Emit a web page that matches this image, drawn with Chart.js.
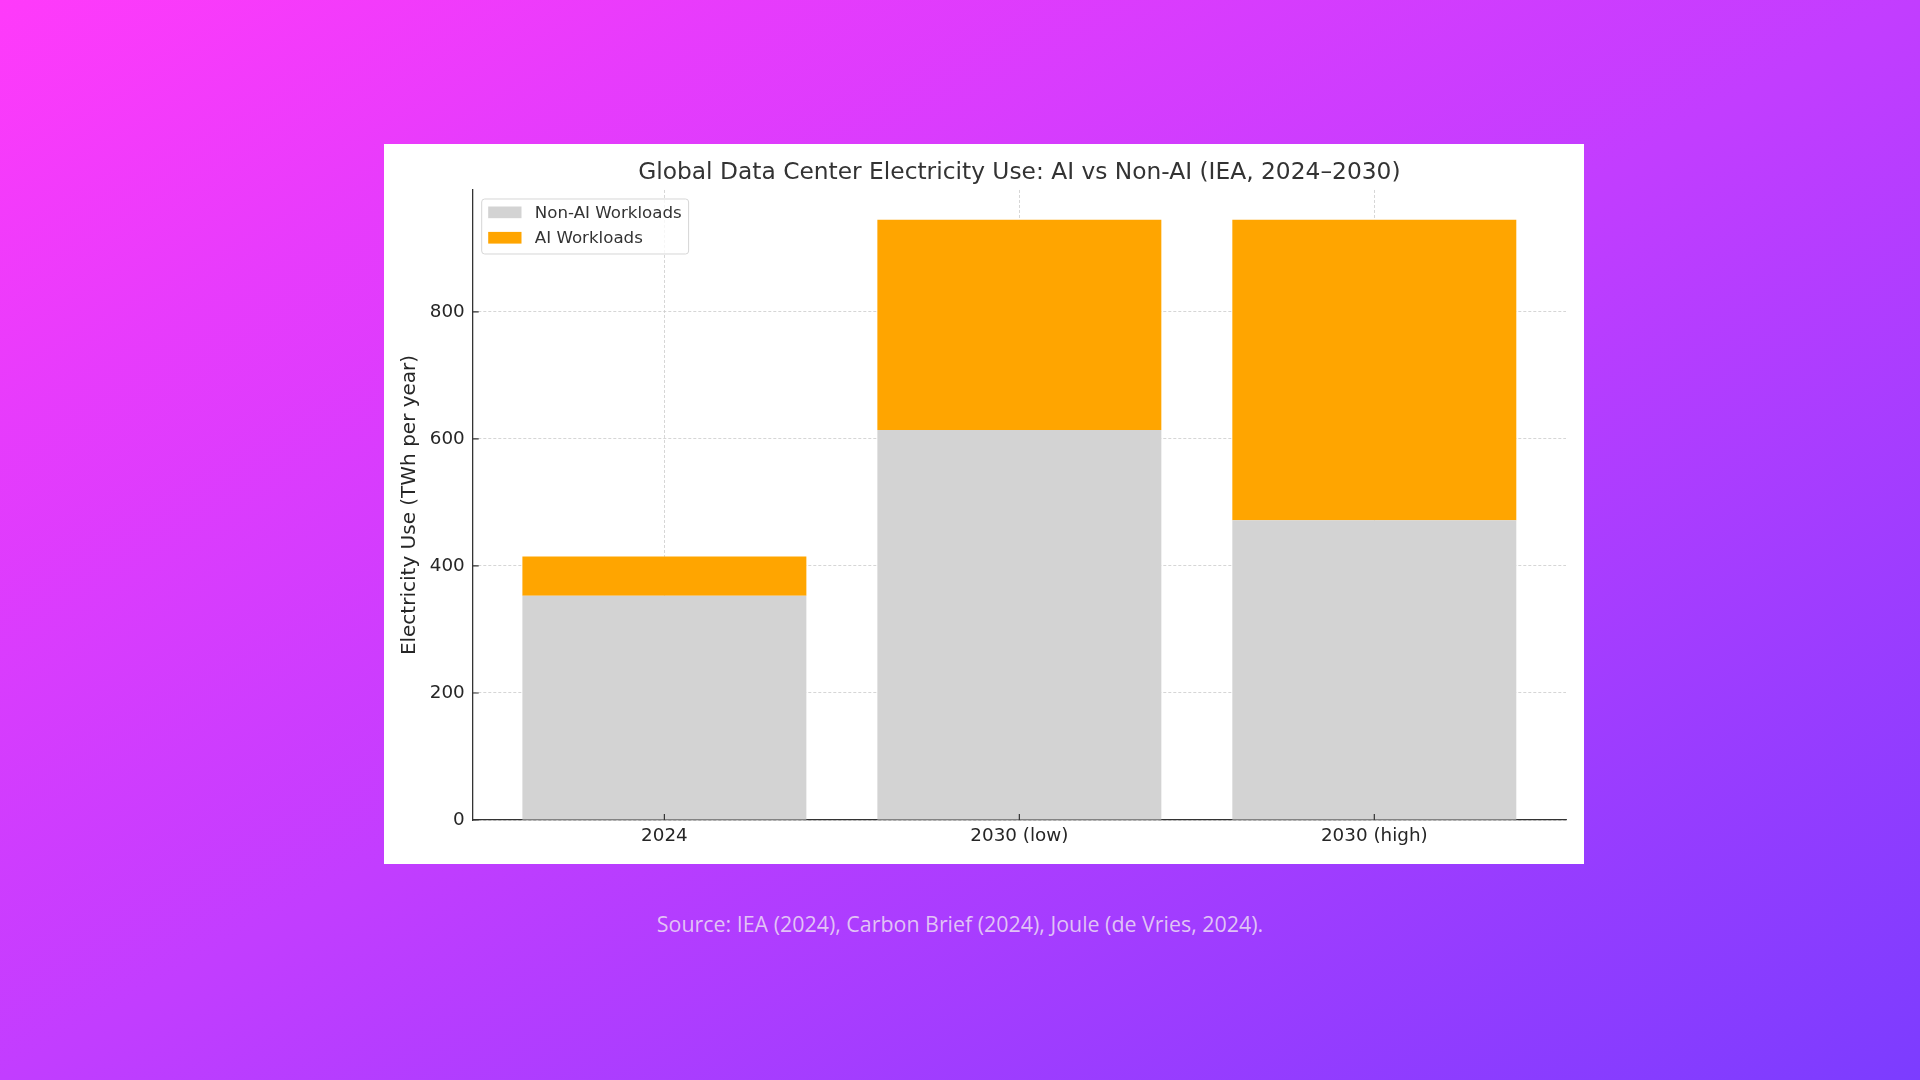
<!DOCTYPE html>
<html lang="en">
<head>
    <meta charset="UTF-8">
    <title>Global Data Center Electricity Use: AI vs Non-AI</title>
    <script src="https://cdn.jsdelivr.net/npm/chart.js"></script>
    <style>
        html, body { margin: 0; padding: 0; }
        body {
            width: 1920px; height: 1080px; position: relative; overflow: hidden;
            background: linear-gradient(to bottom right, #ff3afa 0%, #c23dff 50%, #7c3cff 100%);
        }
        #panel { position: absolute; left: 384px; top: 144px; width: 1200px; height: 720px; background: #fff; }
        #source {
            position: absolute; left: 0; width: 1920px; top: 909px; text-align: center;
            font: 21.4px "Open Sans", sans-serif; color: rgba(236, 220, 244, 0.85);
        }
    </style>
</head>
<body>
    <div id="panel"><canvas id="myChart" width="1200" height="720"></canvas></div>
    <div id="source">Source: IEA (2024), Carbon Brief (2024), Joule (de Vries, 2024).</div>
    <script>
        const categories = ['2024', '2030 (low)', '2030 (high)'];
        const nonAiValues = [353, 614, 472];
        const aiValues = [62, 331, 473];
        const yTickValues = [0, 200, 400, 600, 800];
        const seriesNames = ['Non-AI Workloads', 'AI Workloads'];
        const seriesColors = ['#d3d3d3', '#ffa500'];

        const FONT = '"DejaVu Sans", sans-serif';

        // matplotlib style inward tick marks
        const inwardTicks = {
            id: 'inwardTicks',
            afterDraw(chart) {
                const ctx = chart.ctx;
                const xs = chart.scales.x, ys = chart.scales.y;
                ctx.save();
                ctx.strokeStyle = '#333';
                ctx.lineWidth = 1.2;
                ctx.beginPath();
                xs.ticks.forEach(t => {
                    const px = xs.getPixelForValue(t.value);
                    ctx.moveTo(px, ys.bottom);
                    ctx.lineTo(px, ys.bottom - 6);
                });
                ys.ticks.forEach(t => {
                    const py = ys.getPixelForValue(t.value);
                    ctx.moveTo(xs.left, py);
                    ctx.lineTo(xs.left + 6, py);
                });
                ctx.stroke();
                ctx.restore();
            }
        };

        // legend box drawn inside the plot, upper left
        const boxLegend = {
            id: 'boxLegend',
            afterDraw(chart) {
                const ctx = chart.ctx;
                const area = chart.chartArea;
                const fs = 16.67;
                ctx.save();
                ctx.font = fs + 'px ' + FONT;
                const textW = Math.max(...seriesNames.map(n => ctx.measureText(n).width));
                const bx = area.left + 9, by = area.top + 9;
                const bw = 6.7 + 33.3 + 13.3 + textW + 6.7, bh = 55;
                ctx.beginPath();
                ctx.roundRect(bx, by, bw, bh, 3);
                ctx.fillStyle = 'rgba(255,255,255,0.8)';
                ctx.fill();
                ctx.strokeStyle = '#d6d6d6';
                ctx.lineWidth = 1;
                ctx.stroke();
                ctx.textBaseline = 'middle';
                seriesNames.forEach((name, i) => {
                    const cy = area.top + 22.3 + i * 25.4;
                    ctx.fillStyle = seriesColors[i];
                    ctx.fillRect(bx + 6.5, cy - 5.8, 33.3, 11.7);
                    ctx.fillStyle = '#333';
                    ctx.fillText(name, bx + 6.5 + 33.3 + 13.3, cy + 1);
                });
                ctx.restore();
            }
        };

        const ctx = document.getElementById('myChart').getContext('2d');
        const myChart = new Chart(ctx, {
            type: 'bar',
            data: {
                datasets: [{
                    label: seriesNames[0],
                    data: nonAiValues.map((v, i) => ({ x: i, y: v })),
                    backgroundColor: seriesColors[0]
                }, {
                    label: seriesNames[1],
                    data: aiValues.map((v, i) => ({ x: i, y: v })),
                    backgroundColor: seriesColors[1]
                }]
            },
            options: {
                responsive: false,
                animation: false,
                devicePixelRatio: 1,
                categoryPercentage: 1,
                barPercentage: 0.8,
                layout: { padding: { left: 0, right: 18, top: 0, bottom: 0 } },
                scales: {
                    x: {
                        type: 'linear',
                        stacked: true,
                        offset: false,
                        min: -0.54,
                        max: 2.54,
                        z: 1,
                        afterBuildTicks: s => { s.ticks = categories.map((c, i) => ({ value: i })); },
                        afterFit: s => { s.height = 44; },
                        grid: { offset: false, color: '#cccccc', lineWidth: 0.8, drawTicks: false },
                        border: { display: true, color: '#333', width: 1.3, dash: [3, 2] },
                        ticks: {
                            padding: 5,
                            color: '#262626',
                            font: { family: FONT, size: 18.33 },
                            callback: v => categories[v]
                        }
                    },
                    y: {
                        stacked: true,
                        min: 0,
                        max: 992,
                        z: 1,
                        afterBuildTicks: s => { s.ticks = yTickValues.map(v => ({ value: v })); },
                        afterFit: s => { s.width = 88.7; },
                        grid: { color: '#cccccc', lineWidth: 0.8, drawTicks: false },
                        border: { display: true, color: '#333', width: 1.3, dash: [3, 2] },
                        ticks: {
                            padding: 8,
                            color: '#262626',
                            font: { family: FONT, size: 18.33 }
                        },
                        title: {
                            display: true,
                            text: 'Electricity Use (TWh per year)',
                            color: '#262626',
                            font: { family: FONT, size: 20 },
                            padding: { top: 14, bottom: 0 }
                        }
                    }
                },
                plugins: {
                    legend: { display: false },
                    tooltip: { enabled: false },
                    title: {
                        display: true,
                        fullSize: false,
                        text: 'Global Data Center Electricity Use: AI vs Non-AI (IEA, 2024–2030)',
                        color: '#333',
                        font: { family: FONT, size: 23.33, weight: 'normal' },
                        padding: { top: 15, bottom: 3 }
                    }
                }
            },
            plugins: [inwardTicks, boxLegend]
        });
    </script>
</body>
</html>
